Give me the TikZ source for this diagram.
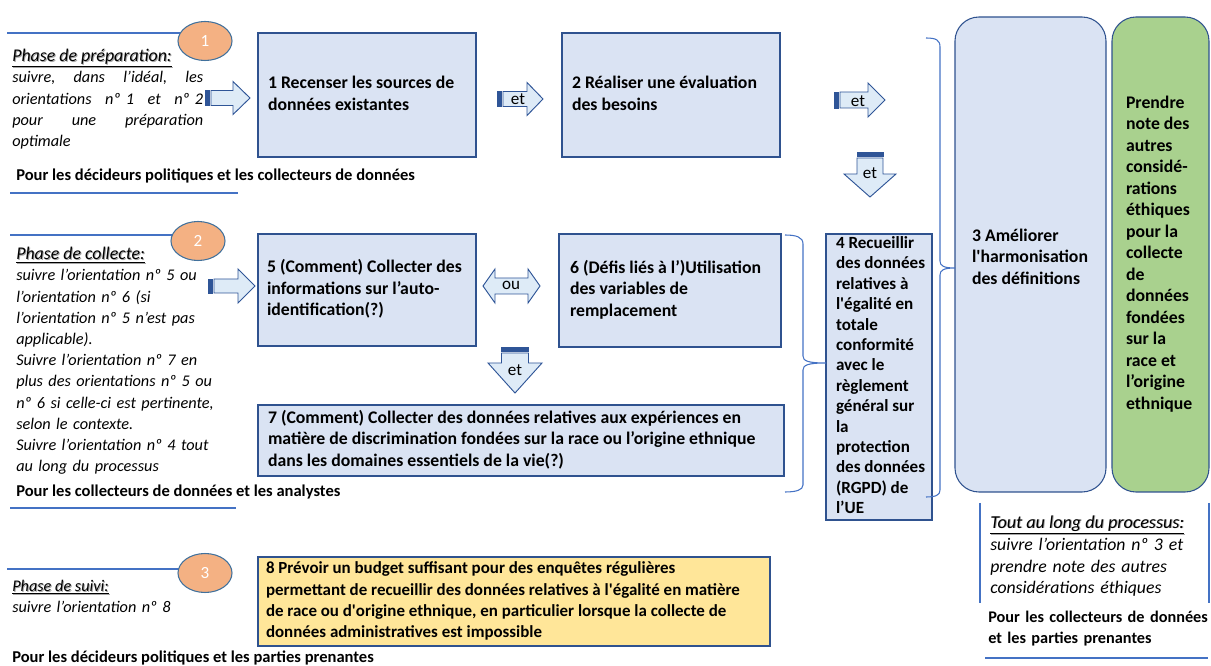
\documentclass[tikz,border=0pt]{standalone}
\usepackage{fontspec}
\setmainfont{Carlito}
\usetikzlibrary{shapes.geometric,calc}
\hyphenpenalty=10000 \exhyphenpenalty=10000
\definecolor{lblue}{HTML}{DAE3F3}
\definecolor{bdr}{HTML}{2F528F}
\definecolor{arfill}{HTML}{DEEBF7}
\definecolor{ardraw}{HTML}{2F5597}
\definecolor{rulec}{HTML}{4472C4}
\definecolor{orng}{HTML}{F4B183}
\definecolor{circb}{HTML}{41719C}
\definecolor{grn}{HTML}{A9D18E}
\definecolor{ylw}{HTML}{FFE699}
\pgfdeclarelayer{bg}
\pgfsetlayers{bg,main}
\newcommand\jline[1]{\leavevmode\hbox to 143.25pt{#1}}
% box: name, style, x1, y1, x2, y2, left pad, text (lines never wrap)
\newcommand\mkbox[8]{\node[#2, minimum width={(#5-#3)*0.75pt}, minimum height={(#6-#4)*0.75pt}, inner sep=0pt] (#1) at ({(#3+#5)/2},{(#4+#6)/2}) {\makebox[\dimexpr 0.75pt*(#5-#3-2*#7)\relax][l]{\begin{tabular}{@{}l@{}}#8\end{tabular}}};}
% right striped arrow: x0, x1, cy, shaft half, head half, head start
\newcommand\rarr[6]{%
 \filldraw[arr, fill=ardraw] (#1,#3-#4) rectangle (#1+2,#3+#4);
 \filldraw[arr] (#1+3.2,#3-#4) rectangle (#1+4.6,#3+#4);
 \filldraw[arr] (#1+6,#3-#4) -- (#6,#3-#4) -- (#6,#3-#5) -- (#2,#3) -- (#6,#3+#5) -- (#6,#3+#4) -- (#1+6,#3+#4) -- cycle;}
% down striped arrow: y0, y1, cx, shaft half, head half, head start
\newcommand\darr[6]{%
 \filldraw[arr, fill=ardraw] (#3-#4,#1) rectangle (#3+#4,#1+2);
 \filldraw[arr] (#3-#4,#1+3.2) rectangle (#3+#4,#1+4.6);
 \filldraw[arr] (#3-#4,#1+6) -- (#3-#4,#6) -- (#3-#5,#6) -- (#3,#2) -- (#3+#5,#6) -- (#3+#4,#6) -- (#3+#4,#1+6) -- cycle;}
\begin{document}
\begin{tikzpicture}[x=0.75pt,y=-0.75pt,
 every node/.style={font=\fontsize{12.8}{16}\selectfont, inner sep=0pt},
 bx/.style={draw=bdr, fill=lblue, line width=0.8pt, font=\bfseries\fontsize{13.3}{16.1}\selectfont},
 arr/.style={draw=ardraw, fill=arfill, line width=0.7pt},
 lbl/.style={font=\fontsize{12.8}{16}\selectfont},
 circ/.style={ellipse, draw=circb, fill=orng, line width=0.8pt, minimum width={54*0.75pt}, minimum height={39*0.75pt}, text=white},
 ptxt/.style={anchor=base west, align=left, font=\itshape\fontsize{12.2}{15.9}\selectfont},
 ptitle/.style={anchor=base west, font=\itshape\fontsize{13.4}{16}\selectfont},
 ptshadow/.style={ptitle, text=black!35},
 btxt/.style={anchor=base west, align=left, font=\bfseries\fontsize{12.4}{15.6}\selectfont},
 rule/.style={draw=rulec, line width=0.8pt},
 brace/.style={draw=rulec, line width=0.8pt}]
\useasboundingbox (0,0) rectangle (1211,666);

% ---------- circles ----------
\node[circ] (c1) at (205,41) {1};
\node[circ] (c2) at (198,241) {2};
\node[circ] (c3) at (205,573) {3};
\coordinate (r1) at (7,33);
\coordinate (r2) at (10,235);
\coordinate (r3) at (7,569);
\begin{pgfonlayer}{bg}
\draw[rule] (r1) -- (r1 -| c1.center);
\draw[rule] (r2) -- (r2 -| c2.center);
\draw[rule] (r3) -- (r3 -| c3.center);
\end{pgfonlayer}

% ---------- phase 1 ----------
\node[ptshadow] at (13,63) {\underline{Phase de préparation:}};
\node[ptitle] (t1) at (12,62) {\underline{Phase de préparation:}};
\node[ptxt, text width={200*0.75pt}] (p1) at (12,83) {\jline{suivre,\hfill dans\hfill l’idéal,\hfill les}\\\jline{orientations\hfill nº 1\hfill et\hfill nº 2}\\\jline{pour\hfill une\hfill préparation}\\optimale};
\node[btxt] (a1) at (16,181) {Pour les décideurs politiques et les collecteurs de données};
\coordinate (u1a) at (10,193); \coordinate (u1b) at (238,193);
\draw[rule] (u1a) -- (u1b);

% ---------- phase 2 ----------
\node[ptshadow] at (17,261) {\underline{Phase de collecte:}};
\node[ptitle] (t2) at (16,260) {\underline{Phase de collecte:}};
\node[ptxt, text width={230*0.75pt}] (p2) at (16,281) {suivre l’orientation nº 5 ou\\l’orientation nº 6 (si\\l’orientation nº 5 n’est pas\\applicable).\\Suivre l’orientation nº 7 en\\plus des orientations nº 5 ou\\nº 6 si celle-ci est pertinente,\\selon le contexte.\\Suivre l’orientation nº 4 tout\\au long du processus};
\node[btxt] (a2) at (16,497) {Pour les collecteurs de données et les analystes};
\coordinate (u2a) at (10,508); \coordinate (u2b) at (236,508);
\draw[rule] (u2a) -- (u2b);

% ---------- phase 3 ----------
\node[ptshadow, font=\itshape\fontsize{12.2}{15.9}\selectfont] at (13,592) {\underline{Phase de suivi:}};
\node[ptitle, font=\itshape\fontsize{12.2}{15.9}\selectfont] (t3) at (12,591) {\underline{Phase de suivi:}};
\node[ptxt, text width={200*0.75pt}] (p3) at (12,612) {suivre l’orientation nº 8};
\node[btxt] (a3) at (12,662) {Pour les décideurs politiques et les parties prenantes};

% ---------- throughout ----------
\node[ptshadow, font=\itshape\fontsize{13.6}{16}\selectfont] at (991,529) {\underline{Tout au long du processus:}};
\node[ptitle, font=\itshape\fontsize{13.6}{16}\selectfont] (t4) at (990,528) {\underline{Tout au long du processus:}};
\node[ptxt, font=\itshape\fontsize{13.3}{16.1}\selectfont, text width={215*0.75pt}] (p4) at (990,551) {suivre l’orientation nº 3 et\\prendre note des autres\\considérations éthiques};
\node[btxt, font=\bfseries\fontsize{12.2}{15.6}\selectfont, text width={240*0.75pt}] (a4) at (988,623) {Pour les collecteurs de données\\et les parties prenantes};
\coordinate (v1a) at (980,503); \coordinate (v1b) at (980,603);
\coordinate (v2a) at (1209,503); \coordinate (v2b) at (1209,603);
\coordinate (u4a) at (985,658); \coordinate (u4b) at (1208,658);
\draw[rule] (v1a) -- (v1b);
\draw[rule] (v2a) -- (v2b);
\draw[rule] (u4a) -- (u4b);

% ---------- boxes ----------
\mkbox{b1}{bx}{258}{33}{476}{157}{10}{1 Recenser les sources de\\données existantes}
\mkbox{b2}{bx}{562}{33}{780}{157}{10}{2 Réaliser une évaluation\\des besoins}
\mkbox{b5}{bx}{258}{234}{476}{346}{9}{5 (Comment) Collecter des\\informations sur l’auto-\\identification(?)}
\mkbox{b6}{bx}{559}{234}{781}{347}{11}{6 (Défis liés à l’)Utilisation\\des variables de\\remplacement}
\mkbox{b7}{bx}{258}{405}{784}{476}{10}{7 (Comment) Collecter des données relatives aux expériences en\\matière de discrimination fondées sur la race ou l’origine ethnique\\dans les domaines essentiels de la vie(?)}
\mkbox{b4}{bx, font=\bfseries\fontsize{12.8}{15.3}\selectfont}{826}{234}{932}{520}{10}{4 Recueillir\\des données\\relatives à\\l\textquotesingle égalité en\\totale\\conformité\\avec le\\règlement\\général sur\\la\\protection\\des données\\(RGPD) de\\l’UE}
\mkbox{b3}{bx, rounded corners=18pt}{955}{17}{1106}{492}{17}{\rule{0pt}{17pt}3 Améliorer\\l\textquotesingle harmonisation\\des définitions}
\mkbox{bg}{bx, fill=grn, rounded corners=18pt}{1112}{17}{1209}{492}{14}{Prendre\\note des\\autres\\considé-\\rations\\éthiques\\pour la\\collecte\\de\\données\\fondées\\sur la\\race et\\l’origine\\ethnique}
\mkbox{b8}{bx, fill=ylw, font=\bfseries\fontsize{12.7}{16}\selectfont}{258}{557}{770}{646}{8}{8 Prévoir un budget suffisant pour des enquêtes régulières\\permettant de recueillir des données relatives à l\textquotesingle égalité en matière\\de race ou d\textquotesingle origine ethnique, en particulier lorsque la collecte de\\données administratives est impossible}

% ---------- block arrows ----------
\rarr{205}{250}{98}{7.5}{16.5}{233}
\rarr{497}{543}{99}{7.5}{16.5}{527}
\node[lbl] (e1) at (518,99) {et};
\rarr{834}{885}{100}{8}{17}{868}
\node[lbl] (e2) at (858,101) {et};
\darr{152}{197}{870}{13}{26}{174}
\node[lbl] (e3) at (870,173) {et};
\rarr{208}{255}{286}{7}{17}{238}
\filldraw[arr] (483,286) -- (495,269) -- (495,278) -- (528,278) -- (528,269) -- (540,286) -- (528,303) -- (528,294) -- (495,294) -- (495,303) -- cycle;
\node[lbl] (o1) at (511,285) {ou};
\darr{347}{393}{515}{13.5}{27}{363}
\node[lbl] (e4) at (515,370) {et};

% ---------- braces ----------
\draw[brace] (926,38) .. controls (936,38) and (940,40) .. (940,47) -- (940,261) .. controls (940,266) and (944,268) .. (955,268) .. controls (944,268) and (940,270) .. (940,275) -- (940,490) .. controls (940,495) and (936,497) .. (926,497);
\draw[brace] (785,235) .. controls (796,235) and (803,237) .. (803,244) -- (803,356) .. controls (803,361) and (808,363) .. (826,363) .. controls (808,363) and (803,365) .. (803,370) -- (803,485) .. controls (803,490) and (796,492) .. (785,492);
\end{tikzpicture}
\end{document}
